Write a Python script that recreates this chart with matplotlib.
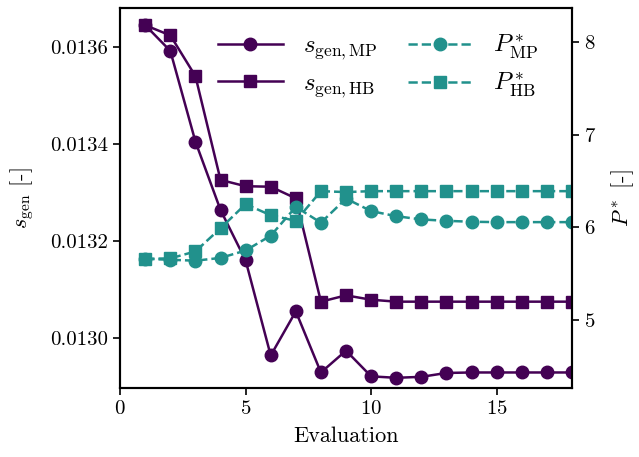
import matplotlib
matplotlib.use("Agg")
import matplotlib.pyplot as plt

plt.rcParams["font.family"] = "serif"
plt.rcParams["font.serif"] = ["cmr10"]
plt.rcParams["mathtext.fontset"] = "cm"
plt.rcParams["axes.formatter.use_mathtext"] = True
plt.rcParams["font.size"] = 14

# Optimisation history
evaluation = list(range(1, 19))
s_gen_mp = [0.013645, 0.013592, 0.013405, 0.013264, 0.013160, 0.012964, 0.013055, 0.012929, 0.012974,
            0.012921, 0.012918, 0.012920, 0.012928, 0.012929, 0.012929, 0.012929, 0.012929, 0.012929]
s_gen_hb = [0.013645, 0.013624, 0.013540, 0.013326, 0.013313, 0.013312, 0.013288, 0.013075, 0.013088,
            0.013079, 0.013075, 0.013075, 0.013075, 0.013075, 0.013075, 0.013075, 0.013075, 0.013075]
p_mp = [5.66, 5.65, 5.64, 5.67, 5.75, 5.91, 6.22, 6.05, 6.31,
        6.175, 6.12, 6.085, 6.07, 6.06, 6.056, 6.056, 6.056, 6.056]
p_hb = [5.66, 5.665, 5.74, 5.99, 6.25, 6.13, 6.07, 6.39, 6.38,
        6.39, 6.39, 6.39, 6.39, 6.39, 6.39, 6.39, 6.39, 6.39]

purple = "#440154"
teal = "#21918c"

fig, ax = plt.subplots(figsize=(6.39, 4.57), dpi=100)
fig.subplots_adjust(left=0.188, right=0.895, bottom=0.151, top=0.982)
ax2 = ax.twinx()

l1, = ax.plot(evaluation, s_gen_mp, "-o", color=purple, lw=1.8, ms=9, label=r"$s_{\mathrm{gen,MP}}$")
l2, = ax.plot(evaluation, s_gen_hb, "-s", color=purple, lw=1.8, ms=9, label=r"$s_{\mathrm{gen,HB}}$")
l3, = ax2.plot(evaluation, p_mp, "--o", color=teal, lw=1.8, ms=9, label=r"$P^*_{\mathrm{MP}}$")
l4, = ax2.plot(evaluation, p_hb, "--s", color=teal, lw=1.8, ms=9, label=r"$P^*_{\mathrm{HB}}$")

ax.set_xlim(0, 18)
ax.set_ylim(0.012897, 0.01368)
ax2.set_ylim(4.267, 8.363)
ax.set_yticks([0.0130, 0.0132, 0.0134, 0.0136])
ax.set_yticklabels(["0.0130", "0.0132", "0.0134", "0.0136"])
ax2.set_yticks([5, 6, 7, 8])

ax.set_xlabel("Evaluation", fontsize=16, labelpad=6)
ax.set_ylabel(r"$s_{\mathrm{gen}}$ [-]", fontsize=16, labelpad=10)
ax2.set_ylabel(r"$P^*$ [-]", fontsize=16, labelpad=10)

for a in (ax, ax2):
    for sp in a.spines.values():
        sp.set_linewidth(1.5)
    a.tick_params(width=1.2, length=5, labelsize=15)

ax2.legend(handles=[l1, l2, l3, l4], ncol=2, frameon=False, fontsize=18,
           loc="upper center", bbox_to_anchor=(0.57, 0.995), columnspacing=1.2,
           handlelength=2.6, labelspacing=0.4)

fig.savefig("out.png", dpi=100)
